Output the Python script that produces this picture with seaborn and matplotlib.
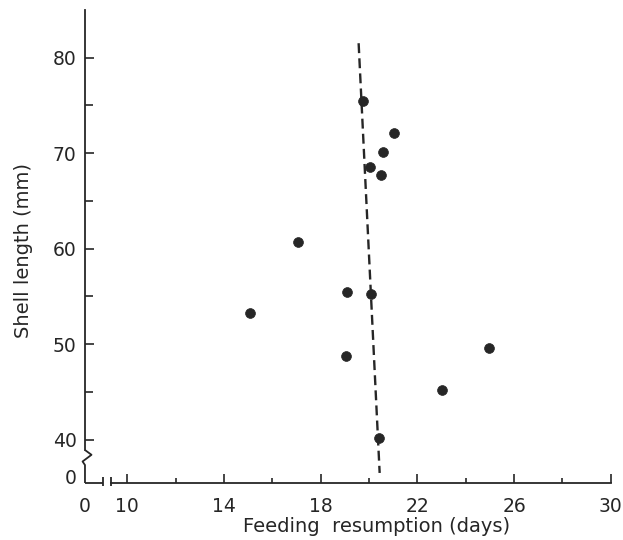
import matplotlib
matplotlib.use("Agg")
import matplotlib.pyplot as plt
import matplotlib.transforms as mtransforms
import seaborn as sns
import pandas as pd

# data
days = [19.74, 21.02, 20.56, 20.06, 20.48, 17.06, 19.10, 20.09, 15.06, 19.06, 23.03, 20.43, 24.95]
shell_len = [75.5, 72.1, 70.1, 68.5, 67.7, 60.7, 55.4, 55.2, 53.2, 48.7, 45.2, 40.2, 49.6]
# dashed fitted line
fit_len = [81.5, 36.5]
fit_days = [19.57, 20.44]

x_ticks = [10, 14, 18, 22, 26, 30]
x_minor = [12, 16, 20, 24, 28]
y_ticks = [40, 50, 60, 70, 80]
y_minor = [45, 55, 65, 75]

df = pd.DataFrame({"days": days, "length": shell_len})
fit = pd.DataFrame({"days": fit_days, "length": fit_len})

sns.set_style("ticks")
plt.rcParams["font.family"] = ["DejaVu Sans"]
plt.rcParams["xtick.direction"] = "in"
plt.rcParams["ytick.direction"] = "in"
ink = "#262626"

fig = plt.figure(figsize=(6.23, 5.4), dpi=100)
ax = fig.add_axes([0.1364, 0.1056, 0.8459, 0.8768])

x0, y0 = 8.25, 35.45   # broken-axis origin
ax.set_xlim(x0, 30.05)
ax.set_ylim(y0, 85.03)

sns.lineplot(data=fit, x="days", y="length", sort=False, ax=ax, color=ink,
             lw=1.7, estimator=None)
ax.lines[-1].set_dashes((4.2, 2.2))
sns.scatterplot(data=df, x="days", y="length", ax=ax, color=ink, s=50,
                edgecolor=ink, linewidth=0.5, zorder=3)

# axes and breaks
for s in ["top", "right"]:
    ax.spines[s].set_visible(False)
for s in ["left", "bottom"]:
    ax.spines[s].set_color(ink)
    ax.spines[s].set_linewidth(1.3)
ax.spines["left"].set_bounds(38.9, 85.03)
ax.spines["bottom"].set_bounds(9.26, 30)
kw = dict(color=ink, lw=1.3, clip_on=False, solid_capstyle="butt")
ax.plot([x0, x0, 8.15, 8.52, x0], [y0, 37.33, 37.7, 38.4, 38.9], **kw)
ax.plot([x0, 8.98], [y0, y0], **kw)
ax.plot([8.98, 8.98], [y0 - 0.35, y0 + 0.6], **kw)
ax.plot([9.32, 9.32], [y0 - 0.35, y0 + 0.6], **kw)
ax.spines["bottom"].set_bounds(9.32, 30)

ax.set_xticks([x0] + x_ticks)
ax.set_xticklabels(["0"] + [str(v) for v in x_ticks])
ax.set_xticks(x_minor, minor=True)
ax.set_yticks([y0] + y_ticks)
ax.set_yticklabels(["0"] + [str(v) for v in y_ticks])
ax.set_yticks(y_minor, minor=True)

ax.tick_params(axis="both", which="both", direction="in", color=ink, width=1.2,
               labelsize=13.5, labelcolor=ink)
ax.tick_params(axis="x", which="major", length=6.5, pad=10)
ax.tick_params(axis="x", which="minor", length=3.8)
ax.tick_params(axis="y", which="major", length=6.5, pad=6)
ax.tick_params(axis="y", which="minor", length=6)

# origin ticks carry only the "0" labels
ax.xaxis.get_major_ticks()[0].tick1line.set_visible(False)
yt0 = ax.yaxis.get_major_ticks()[0]
yt0.tick1line.set_visible(False)
yt0.label1.set_transform(yt0.label1.get_transform() +
                         mtransforms.ScaledTranslation(0, 5 / 72, fig.dpi_scale_trans))

ax.set_xlabel("Feeding  resumption (days)", fontsize=14, color=ink)
ax.set_ylabel("Shell length (mm)", fontsize=14, color=ink)
ax.xaxis.set_label_coords(0.554, -0.072)
ax.yaxis.set_label_coords(-0.099, 0.49)

fig.savefig("out.png", dpi=100)
